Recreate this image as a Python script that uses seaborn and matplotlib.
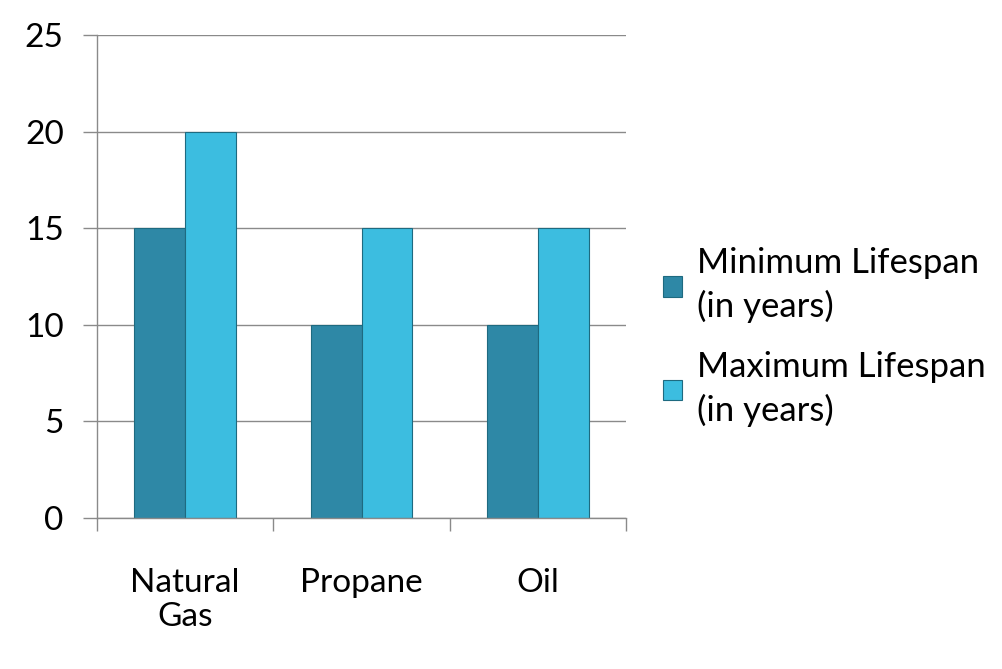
import matplotlib
matplotlib.use("Agg")
import matplotlib.pyplot as plt
import seaborn as sns
import pandas as pd
import numpy as np

categories = ["Natural\nGas", "Propane", "Oil"]
min_lifespan = [15, 10, 10]
max_lifespan = [20, 15, 15]
series_names = ["Minimum Lifespan\n(in years)", "Maximum Lifespan\n(in years)"]
y_ticks = [0, 5, 10, 15, 20, 25]

df = pd.DataFrame({
    "cat": categories * 2,
    "val": min_lifespan + max_lifespan,
    "series": [series_names[0]] * 3 + [series_names[1]] * 3,
})

sns.set_theme(style="white")
plt.rcParams["font.family"] = ["Lato", "DejaVu Sans"]
plt.rcParams["text.color"] = "black"
plt.rcParams["xtick.labelcolor"] = "black"
plt.rcParams["ytick.labelcolor"] = "black"

fig = plt.figure(figsize=(10.02, 6.69), dpi=100)
ax = fig.add_axes([0.0968, 0.2257, 0.528, 0.722])

palette = {series_names[0]: "#2E88A6", series_names[1]: "#3CBDE0"}
sns.barplot(data=df, x="cat", y="val", hue="series", palette=palette,
            width=0.575, ax=ax, edgecolor="#1E6A80", linewidth=0.8,
            saturation=1, legend=True)

ax.set_ylim(0, 25)
ax.set_xlim(-0.5, 2.5)
ax.set_yticks(y_ticks)
ax.set_yticklabels([str(v) for v in y_ticks], fontsize=24, color="black")
ax.yaxis.grid(True, color="#8a8a8a", linewidth=1)
ax.set_axisbelow(True)
ax.tick_params(axis="y", direction="out", length=10, width=1, color="#8a8a8a",
               pad=14, left=True)

ax.set_xticks([-0.5, 0.5, 1.5, 2.5])
ax.set_xticklabels([])
ax.set_xticks([0, 1, 2], minor=True)
ax.set_xticklabels(categories, minor=True, fontsize=24, linespacing=1.15,
                   color="black")
ax.tick_params(axis="x", which="major", direction="out", length=9, width=1,
               color="#8a8a8a", bottom=True)
ax.tick_params(axis="x", which="minor", length=0, pad=36)
ax.set_xlabel("")
ax.set_ylabel("")

for s in ["top", "right"]:
    ax.spines[s].set_visible(False)
for s in ["left", "bottom"]:
    ax.spines[s].set_color("#8a8a8a")
    ax.spines[s].set_linewidth(1)

leg = ax.legend(loc="center left", bbox_to_anchor=(1.01, 0.374), frameon=False,
                fontsize=25, handlelength=0.55, handleheight=0.55,
                handletextpad=0.45, labelspacing=0.8)
for t in leg.get_texts():
    t.set_linespacing(1.4)
    t.set_color("black")

fig.savefig("out.png", dpi=100, facecolor="white")
